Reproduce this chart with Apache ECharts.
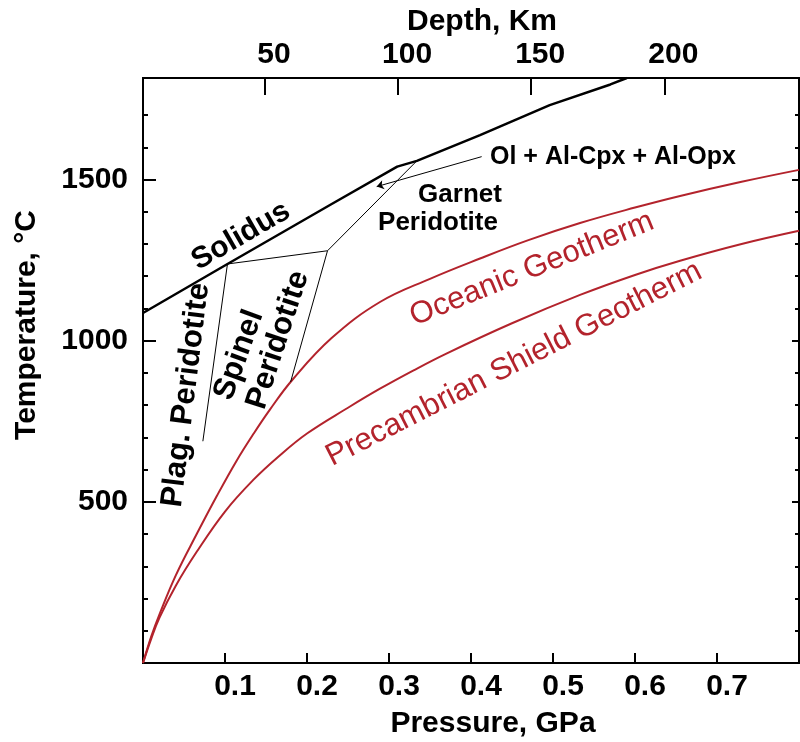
<!DOCTYPE html>
<html><head><meta charset="utf-8">
<script src="https://cdn.jsdelivr.net/npm/echarts@6/dist/echarts.min.js"></script>
<style>html,body{margin:0;padding:0;background:#fff}#c{width:800px;height:742px}</style>
</head><body><div id="c"></div>
<script>
// ---- data (Pressure GPa, Temperature °C) ----
const pressureTicks = [0.1, 0.2, 0.3, 0.4, 0.5, 0.6, 0.7];
const depthTicks = [50, 100, 150, 200];
const tempMajorTicks = [500, 1000, 1500];
const tempMinorTicks = [100, 200, 300, 400, 600, 700, 800, 900, 1100, 1200, 1300, 1400, 1600, 1700];
const depthRange = [4.2, 250.6];
const tempRange = [0, 1815];
const pressureRange = [0, 0.8];

const solidus = [[0, 1086], [0.103, 1238], [0.228, 1421], [0.31, 1540], [0.334, 1558], [0.411, 1638], [0.496, 1731], [0.57, 1795], [0.59, 1815]];
const oceanicGeotherm = [[0, 0], [0.01, 82], [0.0207, 155], [0.04, 272], [0.0655, 400], [0.09, 518], [0.114, 627], [0.135, 712], [0.155, 787], [0.182, 878], [0.23, 1008], [0.289, 1120], [0.35, 1192], [0.411, 1255], [0.47, 1312], [0.533, 1365], [0.6, 1413], [0.655, 1449], [0.73, 1493], [0.8, 1530]];
const precambrianGeotherm = [[0, 0], [0.01, 75], [0.02, 140], [0.04, 240], [0.0655, 345], [0.1, 470], [0.1345, 568], [0.165, 640], [0.2, 712], [0.25, 792], [0.289, 851], [0.33, 908], [0.37, 960], [0.45, 1054], [0.533, 1142], [0.6, 1204], [0.655, 1248], [0.73, 1300], [0.8, 1341]];
const plagSpinelBoundary = [[0.103, 1238], [0.073, 688]];
const spinelTopBoundary = [[0.103, 1238], [0.225, 1279]];
const spinelGarnetBoundary = [[0.225, 1279], [0.18, 872]];
const garnetUpperBoundary = [[0.225, 1279], [0.334, 1558]];
const arrowCoords = [[0.413, 1571], [0.285, 1478]];

const F = '"Liberation Sans", Arial, Helvetica, sans-serif';
const RED = '#b3232c';
const chart = echarts.init(document.getElementById('c'), null, {renderer: 'canvas'});
const axisLine = {show: true, onZero: false, lineStyle: {color: '#000', width: 2}};
const lbl = {fontSize: 30, fontWeight: 'bold', fontFamily: F, color: '#000'};

function yAx(pos, vals, len, labels) {
  return {
    type: 'value', position: pos, min: tempRange[0], max: tempRange[1],
    axisLine: axisLine, splitLine: {show: false},
    axisTick: {show: true, inside: true, length: len, lineStyle: {color: '#000', width: 2}, customValues: vals},
    axisLabel: labels ? Object.assign({show: true, customValues: vals, margin: 15, formatter: v => String(v)}, lbl) : {show: false}
  };
}

const option = {
  animation: false,
  backgroundColor: '#fff',
  grid: {left: 143, top: 78, width: 656, height: 585},
  xAxis: [
    {type: 'value', position: 'bottom', min: pressureRange[0], max: pressureRange[1],
     axisLine: axisLine, splitLine: {show: false},
     axisTick: {show: true, inside: true, length: 10, lineStyle: {color: '#000', width: 2}, customValues: pressureTicks},
     axisLabel: Object.assign({customValues: pressureTicks, margin: 9, padding: [0, 0, 0, 20], formatter: v => v.toFixed(1)}, lbl)},
    {type: 'value', position: 'top', min: depthRange[0], max: depthRange[1],
     axisLine: axisLine, splitLine: {show: false},
     axisTick: {show: true, inside: true, length: 17, lineStyle: {color: '#000', width: 2}, customValues: depthTicks},
     axisLabel: Object.assign({customValues: depthTicks, margin: 8, padding: [0, 0, 0, 18], formatter: v => String(v)}, lbl)}
  ],
  yAxis: [
    yAx('left', tempMinorTicks, 5, false),
    yAx('left', tempMajorTicks, 13, true),
    yAx('right', tempMinorTicks, 4, false),
    yAx('right', tempMajorTicks, 7, false)
  ],
  series: [
    {name: 'Solidus', type: 'line', data: solidus, symbol: 'none', lineStyle: {color: '#000', width: 2.5}, z: 5},
    {name: 'Oceanic Geotherm', type: 'line', data: oceanicGeotherm, smooth: 0.4, symbol: 'none', lineStyle: {color: RED, width: 2}},
    {name: 'Precambrian Shield Geotherm', type: 'line', data: precambrianGeotherm, smooth: 0.4, symbol: 'none', lineStyle: {color: RED, width: 2}},
    {type: 'line', data: plagSpinelBoundary, symbol: 'none', lineStyle: {color: '#000', width: 1}},
    {type: 'line', data: spinelTopBoundary, symbol: 'none', lineStyle: {color: '#000', width: 1}},
    {type: 'line', data: spinelGarnetBoundary, symbol: 'none', lineStyle: {color: '#000', width: 1}},
    {type: 'line', data: garnetUpperBoundary, symbol: 'none', lineStyle: {color: '#000', width: 1}},
    {type: 'lines', coordinateSystem: 'cartesian2d', xAxisIndex: 0, yAxisIndex: 0,
     data: [{coords: arrowCoords}], symbol: ['none', 'arrow'], symbolSize: [0, 7],
     lineStyle: {color: '#000', width: 1, opacity: 1}}
  ],
  graphic: [
    {type: 'text', x: 482, y: 22, style: {text: 'Depth, Km', font: 'bold 30px ' + F, fill: '#000', align: 'center', verticalAlign: 'middle'}},
    {type: 'text', x: 493, y: 724, style: {text: 'Pressure, GPa', font: 'bold 30px ' + F, fill: '#000', align: 'center', verticalAlign: 'middle'}},
    {type: 'text', x: 27, y: 325, rotation: Math.PI / 2, style: {text: 'Temperature, °C', font: 'bold 30px ' + F, fill: '#000', align: 'center', verticalAlign: 'middle'}},
    {type: 'text', x: 241, y: 236, rotation: 30 * Math.PI / 180, style: {text: 'Solidus', font: 'bold 30px ' + F, fill: '#000', align: 'center', verticalAlign: 'middle'}},
    {type: 'text', x: 490, y: 157, style: {text: 'Ol + Al-Cpx + Al-Opx', font: 'bold 25px ' + F, fill: '#000', align: 'left', verticalAlign: 'middle'}},
    {type: 'text', x: 460, y: 195, style: {text: 'Garnet', font: 'bold 26px ' + F, fill: '#000', align: 'center', verticalAlign: 'middle'}},
    {type: 'text', x: 438, y: 223, style: {text: 'Peridotite', font: 'bold 26px ' + F, fill: '#000', align: 'center', verticalAlign: 'middle'}},
    {type: 'text', x: 239, y: 355, rotation: 70 * Math.PI / 180, style: {text: 'Spinel', font: 'bold 31px ' + F, fill: '#000', align: 'center', verticalAlign: 'middle'}},
    {type: 'text', x: 278, y: 340, rotation: 72 * Math.PI / 180, style: {text: 'Peridotite', font: 'bold 31px ' + F, fill: '#000', align: 'center', verticalAlign: 'middle'}},
    {type: 'text', x: 186, y: 395, rotation: 83 * Math.PI / 180, style: {text: 'Plag. Peridotite', font: 'bold 31px ' + F, fill: '#000', align: 'center', verticalAlign: 'middle'}},
    {type: 'text', x: 532, y: 269, rotation: 22 * Math.PI / 180, style: {text: 'Oceanic Geotherm', font: '31px ' + F, fill: RED, align: 'center', verticalAlign: 'middle'}},
    {type: 'text', x: 514, y: 364, rotation: 27 * Math.PI / 180, style: {text: 'Precambrian Shield Geotherm', font: '31px ' + F, fill: RED, align: 'center', verticalAlign: 'middle'}}
  ]
};
chart.setOption(option);
</script>
</body></html>
